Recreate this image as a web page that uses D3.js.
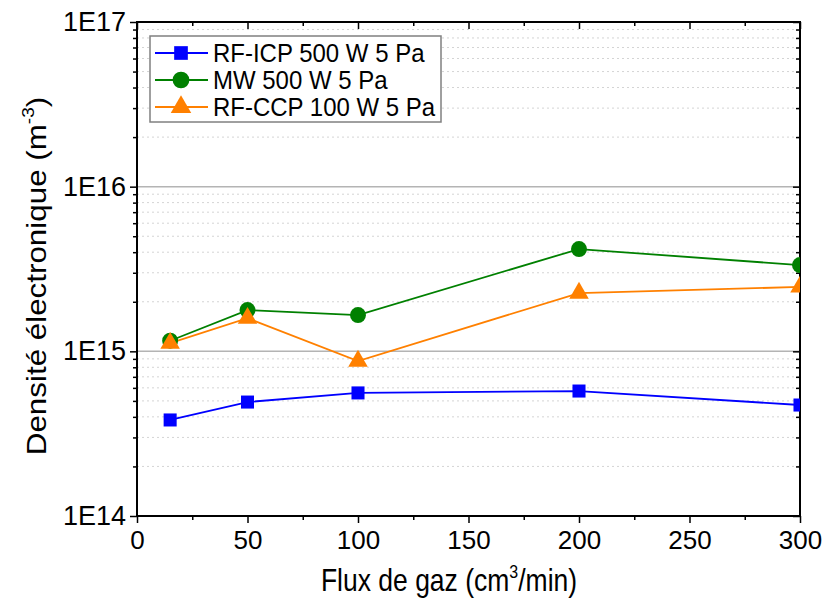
<!DOCTYPE html>
<html><head><meta charset="utf-8">
<script src="https://cdn.jsdelivr.net/npm/d3@7"></script>
<style>body{margin:0;background:#fff;} text{font-family:"Liberation Sans",Arial,sans-serif;}</style>
</head><body><svg id="c" width="823" height="606"></svg>
<script>
const flux = [15, 50, 100, 200, 300];
const rfIcp = [3.83e14, 4.92e14, 5.59e14, 5.74e14, 4.72e14];
const mw = [1.16e15, 1.78e15, 1.66e15, 4.18e15, 3.34e15];
const rfCcp = [1.12e15, 1.59e15, 8.73e14, 2.26e15, 2.46e15];
const seriesNames = ["RF-ICP 500 W 5 Pa", "MW 500 W 5 Pa", "RF-CCP 100 W 5 Pa"];
const seriesColors = ["#0000ff", "#008000", "#ff8000"];
const xTicks = [0, 50, 100, 150, 200, 250, 300];
const yTicks = [1e14, 1e15, 1e16, 1e17];
const yTickLabels = ["1E14", "1E15", "1E16", "1E17"];

const L = 137, R = 800, T = 22, B = 516;
const svg = d3.select("#c");
const x = d3.scaleLinear().domain([0, 300]).range([L, R]);
const y = d3.scaleLog().domain([1e14, 1e17]).range([B, T]);

const minors = [];
for (let e = 14; e < 17; e++) for (let m = 2; m <= 9; m++) minors.push(m * Math.pow(10, e));

// grid
svg.append("g").selectAll("line").data(minors).join("line")
  .attr("x1", L).attr("x2", R).attr("y1", d => y(d)).attr("y2", d => y(d))
  .attr("stroke", "#d4d4d4").attr("stroke-width", 1).attr("stroke-dasharray", "2,3");
svg.append("g").selectAll("line").data([1e15, 1e16]).join("line")
  .attr("x1", L).attr("x2", R).attr("y1", d => y(d)).attr("y2", d => y(d))
  .attr("stroke", "#b4b4b4").attr("stroke-width", 1.5);

// axes
const gx = svg.append("g").attr("transform", `translate(0,${B})`)
  .call(d3.axisBottom(x).tickValues(xTicks).tickSize(7).tickPadding(8));
gx.selectAll("text").attr("font-size", 26).attr("fill", "#000");
svg.append("g").attr("transform", `translate(0,${B})`)
  .call(d3.axisBottom(x).tickValues(d3.range(25, 300, 50)).tickSize(4).tickFormat(""));
svg.append("g").attr("transform", `translate(0,${T})`)
  .call(d3.axisBottom(x).tickValues(xTicks).tickSize(7).tickFormat(""));
svg.append("g").attr("transform", `translate(0,${T})`)
  .call(d3.axisBottom(x).tickValues(d3.range(25, 300, 50)).tickSize(4).tickFormat(""));

const gy = svg.append("g").attr("transform", `translate(${L},0)`)
  .call(d3.axisLeft(y).tickValues(yTicks).tickSize(7).tickPadding(4).tickFormat((d, i) => yTickLabels[i]));
gy.selectAll("text").attr("font-size", 27).attr("fill", "#000");
svg.append("g").attr("transform", `translate(${L},0)`)
  .call(d3.axisLeft(y).tickValues(minors).tickSize(4).tickFormat(""));
svg.append("g").attr("transform", `translate(${R},0)`)
  .call(d3.axisLeft(y).tickValues(yTicks).tickSize(7).tickFormat(""));
svg.append("g").attr("transform", `translate(${R},0)`)
  .call(d3.axisLeft(y).tickValues(minors).tickSize(4).tickFormat(""));
svg.selectAll(".domain").remove();
svg.selectAll(".tick line").attr("stroke", "#000").attr("stroke-width", 1.5);

// frame
svg.append("rect").attr("x", L).attr("y", T).attr("width", R - L).attr("height", B - T)
  .attr("fill", "none").attr("stroke", "#000").attr("stroke-width", 2);

// clip
svg.append("clipPath").attr("id", "clip").append("rect")
  .attr("x", L).attr("y", T).attr("width", R - L).attr("height", B - T);
const plot = svg.append("g").attr("clip-path", "url(#clip)");

const data = [rfIcp, mw, rfCcp];
const line = d3.line().x((d, i) => x(flux[i])).y(d => y(d));
const sym = [d3.symbolSquare, d3.symbolCircle, d3.symbolTriangle];
const symSize = [170, 200, 165];
data.forEach((vals, k) => {
  plot.append("path").attr("d", line(vals)).attr("fill", "none")
    .attr("stroke", seriesColors[k]).attr("stroke-width", 1.8);
});
data.forEach((vals, k) => {
  plot.append("g").selectAll("path").data(vals).join("path")
    .attr("transform", (d, i) => `translate(${x(flux[i])},${y(d)})`)
    .attr("d", d3.symbol().type(sym[k]).size(symSize[k]))
    .attr("fill", seriesColors[k]);
});

// legend
const lg = svg.append("g");
lg.append("rect").attr("x", 150).attr("y", 36).attr("width", 291).attr("height", 86)
  .attr("fill", "#fff").attr("stroke", "#808080").attr("stroke-width", 1.5);
seriesNames.forEach((n, k) => {
  const yy = 53 + k * 27;
  lg.append("line").attr("x1", 155).attr("x2", 208).attr("y1", yy).attr("y2", yy)
    .attr("stroke", seriesColors[k]).attr("stroke-width", 1.8);
  lg.append("path").attr("transform", `translate(181,${yy})`)
    .attr("d", d3.symbol().type(sym[k]).size(symSize[k] * 1.1)).attr("fill", seriesColors[k]);
  lg.append("text").attr("x", 213).attr("y", yy + 8.5).attr("font-size", 24)
    .attr("transform", `translate(213,${yy}) scale(1,1.08) translate(-213,${-yy})`).text(n);
});

// axis titles
const xt = svg.append("text").attr("text-anchor", "middle").attr("font-size", 26.5)
  .attr("transform", "translate(449,591) scale(1,1.15)");
xt.append("tspan").text("Flux de gaz (cm");
xt.append("tspan").attr("dy", -11).attr("font-size", 16).text("3");
xt.append("tspan").attr("dy", 11).text("/min)");
const yt = svg.append("text").attr("text-anchor", "middle").attr("font-size", 28)
  .attr("transform", "translate(46,276) rotate(-90) scale(1.12,1)");
yt.append("tspan").text("Densité électronique (m");
yt.append("tspan").attr("dy", -12).attr("font-size", 17).text("-3");
yt.append("tspan").attr("dy", 12).text(")");
</script></body></html>
